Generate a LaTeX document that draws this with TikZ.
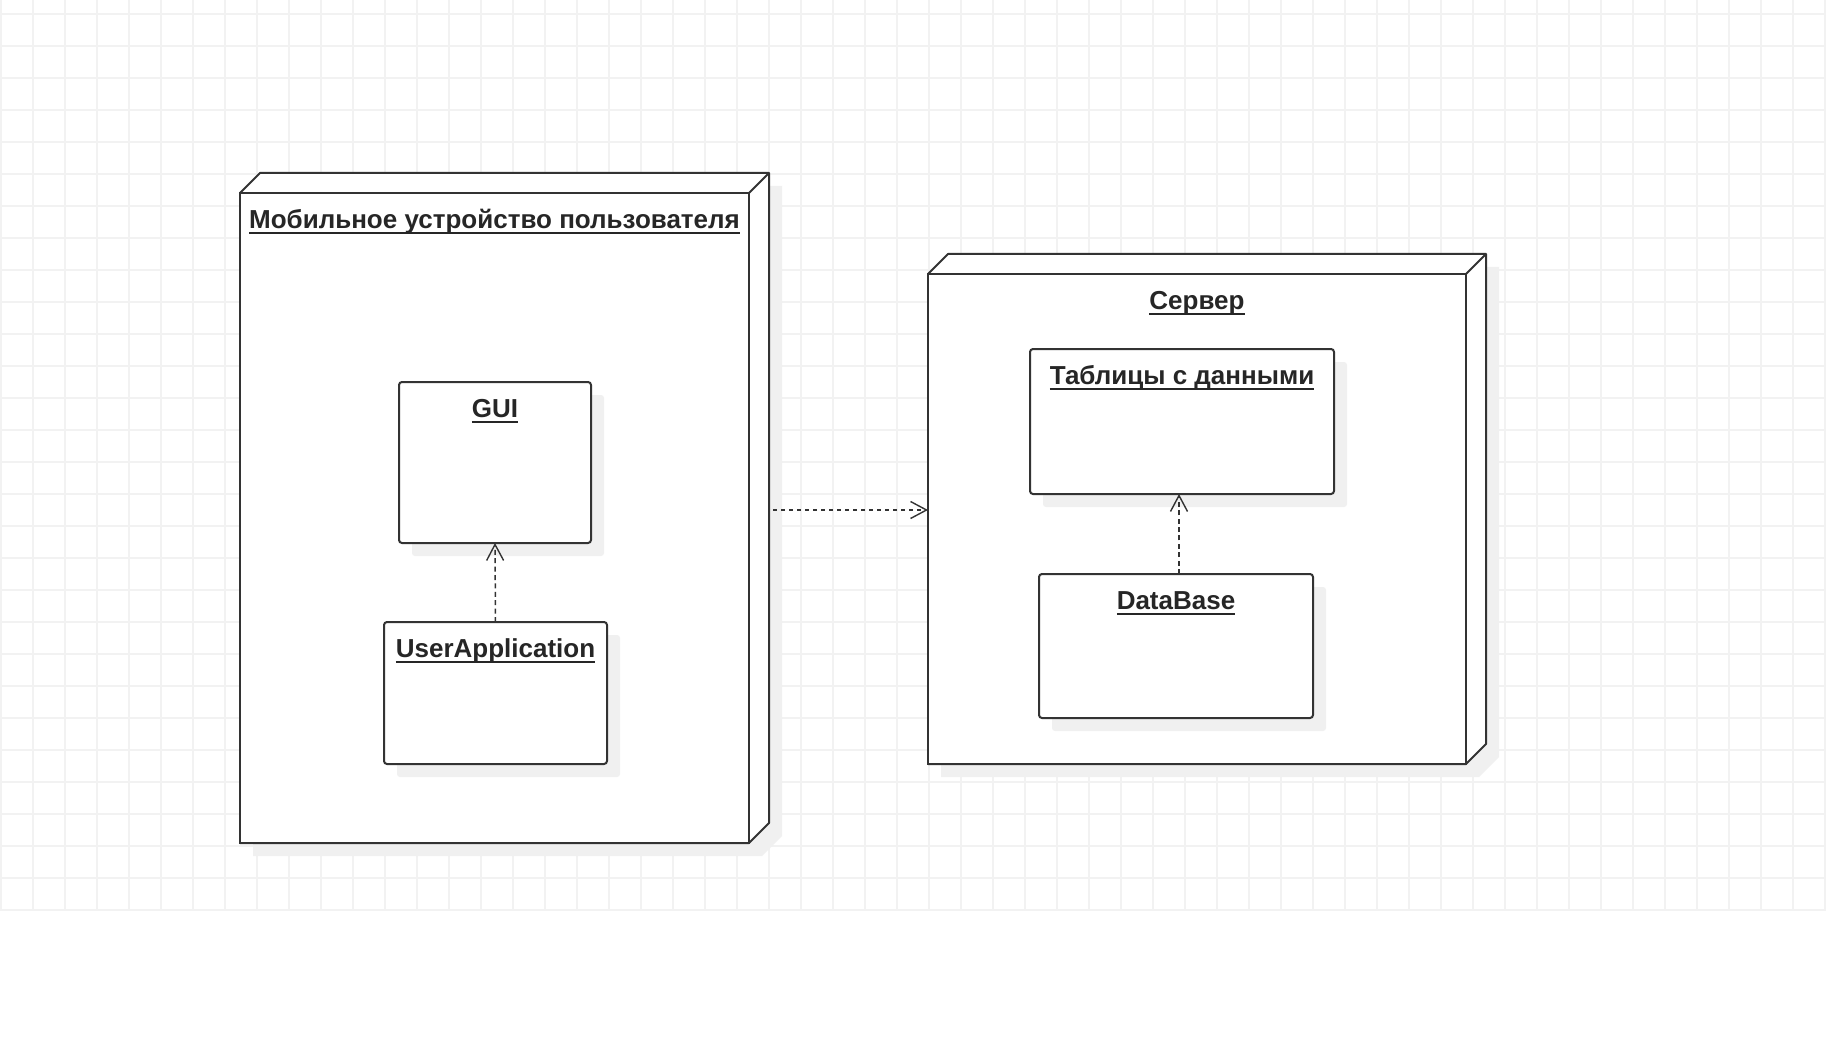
\documentclass[tikz,border=0pt]{standalone}
\usepackage{fontspec}
\setmainfont{Liberation Sans}
\usetikzlibrary{arrows.meta, positioning, shadows}

\newsavebox\labbox
\newcommand{\ulabel}[1]{\sbox\labbox{#1}\rlap{\rule[-3pt]{\wd\labbox}{1pt}}\usebox\labbox}

\pgfdeclarelayer{gridlayer}
\pgfdeclarelayer{depth}
\pgfsetlayers{gridlayer,depth,main}

\begin{document}
\begin{tikzpicture}[
  x=0.5pt, y=-0.5pt,
  gridline/.style = {draw=black!5, line width=0.75pt},
  device/.style = {rectangle, draw=black!80, fill=white, line width=1pt, inner sep=0pt, outer sep=0pt},
  devback/.style = {draw=black!80, fill=white, line width=1pt, line join=round,
    drop shadow={shadow xshift=6.5pt, shadow yshift=-6.5pt, fill=black!6, opacity=1}},
  edge3d/.style = {draw=black!80, line width=1pt},
  comp/.style = {rectangle, draw=black!80, fill=white, line width=1pt, rounded corners=1.5pt, inner sep=0pt, outer sep=0pt,
    drop shadow={shadow xshift=6.5pt, shadow yshift=-6.5pt, fill=black!6, opacity=1}},
  lab/.style = {anchor=base, yshift=-17.6pt, inner sep=0pt, font=\fontsize{13pt}{15pt}\selectfont\bfseries, text=black!85},
  dep/.style = {draw=black!80, line width=0.75pt, dash pattern=on 2.5pt off 1.7pt,
    -{Straight Barb[length=8pt, width=8.5pt, line width=0.7pt]}}
  ]
  \useasboundingbox (0,0) rectangle (1826,1064);

  % grid
  \begin{pgfonlayer}{gridlayer}
    \fill[white] (0,0) rectangle (1826,1064);
    \foreach \gx in {1,33,...,1825} \draw[gridline] (\gx,0) -- (\gx,910);
    \foreach \gy in {14,46,...,910} \draw[gridline] (0,\gy) -- (1826,\gy);
  \end{pgfonlayer}

  % Nodes
  \node[device, minimum width=254.5pt, minimum height=325pt,
    label={[lab]north:\ulabel{Мобильное устройство пользователя}}] (mobile) at (494.5,518) {};
  \node[device, minimum width=269pt, minimum height=245pt,
    label={[lab]north:\ulabel{Сервер}}] (server) at (1197,519) {};

  \begin{pgfonlayer}{depth}
    \path[devback] (mobile.north west) -- ([shift={(20,-20)}]mobile.north west) -- ([shift={(20,-20)}]mobile.north east)
      -- ([shift={(20,-20)}]mobile.south east) -- (mobile.south east) -- (mobile.south west) -- cycle;
    \path[devback] (server.north west) -- ([shift={(20,-20)}]server.north west) -- ([shift={(20,-20)}]server.north east)
      -- ([shift={(20,-20)}]server.south east) -- (server.south east) -- (server.south west) -- cycle;
  \end{pgfonlayer}
  \draw[edge3d] (mobile.north east) -- ++(20,-20);
  \draw[edge3d] (server.north east) -- ++(20,-20);

  \node[comp, minimum width=96pt, minimum height=80.5pt,
    label={[lab]north:\ulabel{GUI}}] (gui) at (495,462.5) {};
  \node[comp, minimum width=111.5pt, minimum height=71pt,
    label={[lab]north:\ulabel{UserApplication}}] (userapp) at (495.5,693) {};
  \node[comp, minimum width=152pt, minimum height=72.5pt,
    label={[lab]north:\ulabel{Таблицы с данными}}] (tables) at (1182,421.5) {};
  \node[comp, minimum width=137pt, minimum height=72pt,
    label={[lab]north:\ulabel{DataBase}}] (database) at (1176,646) {};

  \coordinate (mobout) at (773,510);

  % Arrows
  \draw[dep] (userapp.north) -- (gui.south);
  \draw[dep] ([xshift=1.5pt]database.north) -- ([xshift=1.5pt]database.north |- tables.south);
  \draw[dep, dash pattern=on 2pt off 2pt] (mobout) -- (mobout -| server.west);

\end{tikzpicture}
\end{document}
